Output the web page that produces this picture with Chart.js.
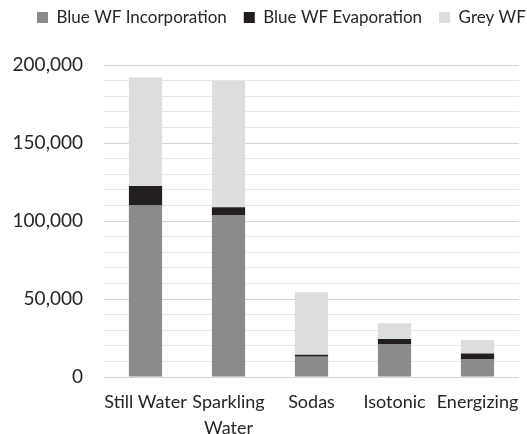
<!DOCTYPE html>
<html>
<head>
<meta charset="utf-8">
<script src="https://cdn.jsdelivr.net/npm/chart.js@4/dist/chart.umd.min.js"></script>
<style>
  html, body { margin: 0; padding: 0; background: #fff; }
  #wrap { width: 527px; height: 434px; }
</style>
</head>
<body>
<div id="wrap"><canvas id="wf-chart"></canvas></div>
<script>
const categories = ['Still Water', ['Sparkling', 'Water'], 'Sodas', 'Isotonic', 'Energizing'];
const incorporation = [110000, 103500, 13000, 20800, 11200];
const evaporation = [12500, 5300, 1300, 3600, 3800];
const grey = [69500, 81000, 40000, 10000, 8700];
const yTicks = [0, 50000, 100000, 150000, 200000];

const textColor = '#262626';
const fontFamily = 'Lato, "Noto Sans", sans-serif';

// keep the legend on one row starting at x=20, lift it a bit, and leave a gap under it
const legendGap = {
    id: 'legendGap',
    beforeInit(chart) {
        const fit = chart.legend.fit;
        chart.legend.fit = function () {
            this.maxWidth = 800;
            fit.bind(chart.legend)();
            this.height += 21;
        };
    },
    afterLayout(chart) {
        const lg = chart.legend;
        lg.left = 20;
        lg.right = 820;
        lg.top -= 8;
        lg.bottom -= 8;
    }
};

function dataset(label, data, color) {
    return {
        label: label,
        data: data,
        backgroundColor: color,
        borderWidth: 0,
        barPercentage: 0.4,
        categoryPercentage: 1.0
    };
}

const ctx = document.getElementById('wf-chart').getContext('2d');
const chart = new Chart(ctx, {
    type: 'bar',
    data: {
        labels: categories,
        datasets: [
            dataset('Blue WF Incorporation', incorporation, '#8a8b8c'),
            dataset('Blue WF Evaporation', evaporation, '#231f20'),
            dataset('Grey WF', grey, '#dcdddf')
        ]
    },
    plugins: [legendGap],
    options: {
        responsive: true,
        maintainAspectRatio: false,
        animation: false,
        layout: { padding: { left: 13, right: 8, top: 0, bottom: 0 } },
        plugins: {
            tooltip: { enabled: false },
            legend: {
                position: 'top',
                align: 'start',
                labels: {
                    color: textColor,
                    font: { family: fontFamily, size: 17 },
                    boxWidth: 11,
                    boxHeight: 11,
                    padding: 17
                }
            }
        },
        scales: {
            x: {
                stacked: true,
                grid: { display: false },
                border: { display: false },
                ticks: {
                    color: textColor,
                    font: { family: fontFamily, size: 18, lineHeight: 1.45 },
                    maxRotation: 0,
                    autoSkip: false,
                    padding: 4
                },
                afterFit(scale) { scale.height = 57; }
            },
            y: {
                stacked: true,
                min: 0,
                max: yTicks[yTicks.length - 1],
                border: { display: false },
                grid: {
                    drawTicks: false,
                    lineWidth: 1,
                    color: (c) => (c.tick && c.tick.value % 50000 === 0) ? '#d4d4d4' : '#e6e6e6'
                },
                ticks: {
                    stepSize: 10000,
                    autoSkip: false,
                    color: textColor,
                    font: { family: fontFamily, size: 19 },
                    padding: 21,
                    callback: (v) => yTicks.includes(v) ? v.toLocaleString('en-US') : ''
                },
                afterFit(scale) { scale.width = 91; }
            }
        }
    }
});
</script>
</body>
</html>
